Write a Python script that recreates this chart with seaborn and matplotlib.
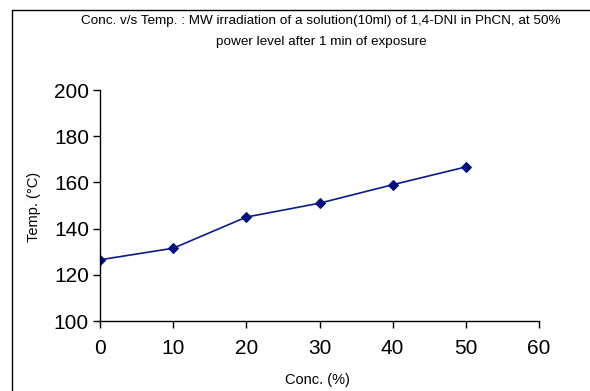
import matplotlib
import matplotlib.pyplot as plt
import pandas as pd
import seaborn as sns
from matplotlib.lines import Line2D

matplotlib.use("Agg")

conc = [0, 10, 20, 30, 40, 50]
temp = [126.5, 131.5, 145.0, 151.0, 159.0, 166.7]
x_ticks = [0, 10, 20, 30, 40, 50, 60]
y_ticks = [100, 120, 140, 160, 180, 200]

df = pd.DataFrame({'conc': conc, 'temp': temp})

sns.set_style('ticks')
plt.rcParams['font.family'] = ['Liberation Sans', 'DejaVu Sans']
plt.rcParams['text.color'] = 'black'

fig = plt.figure(figsize=(5.9, 3.91), dpi=100)
ax = fig.add_axes([0.1695, 0.179, 0.9136 - 0.1695, 0.7698 - 0.179])

sns.lineplot(data=df, x='conc', y='temp', ax=ax, color='#0a1a8c', linewidth=1.2,
             marker='D', markersize=5, markerfacecolor='#001080', markeredgecolor='#001080')

ax.set_xlim(0, 60)
ax.set_ylim(100, 200)
ax.set_xticks(x_ticks)
ax.set_yticks(y_ticks)
ax.tick_params(axis='both', labelsize=15, length=5, width=1, color='black',
               labelcolor='black', direction='out')
ax.tick_params(axis='x', pad=8)
ax.tick_params(axis='y', pad=3)
ax.spines['top'].set_visible(False)
ax.spines['right'].set_visible(False)
for s in ['left', 'bottom']:
    ax.spines[s].set_color('black')
    ax.spines[s].set_linewidth(1)
ax.set_xlabel('')
ax.set_ylabel('')

fig.text(321 / 590, 1 - 21 / 391, 'Conc. v/s Temp. : MW irradiation of a solution(10ml) of 1,4-DNI in PhCN, at 50%',
         ha='center', va='center', fontsize=9.7)
fig.text(321 / 590, 1 - 42 / 391, 'power level after 1 min of exposure', ha='center', va='center', fontsize=9.7)
fig.text(317 / 590, 1 - 380 / 391, 'Conc. (%)', ha='center', va='center', fontsize=10.5)
fig.text(34 / 590, 1 - 207 / 391, 'Temp. (\u00b0C)', ha='center', va='center', fontsize=10.5, rotation=90)

# outer chart frame (left and top edges visible)
fig.add_artist(Line2D([12 / 590, 12 / 590], [0, 1 - 10 / 391], color='black', linewidth=1,
                      transform=fig.transFigure))
fig.add_artist(Line2D([12 / 590, 1], [1 - 10 / 391, 1 - 10 / 391], color='black', linewidth=1,
                      transform=fig.transFigure))

fig.savefig('out.png', dpi=100)
